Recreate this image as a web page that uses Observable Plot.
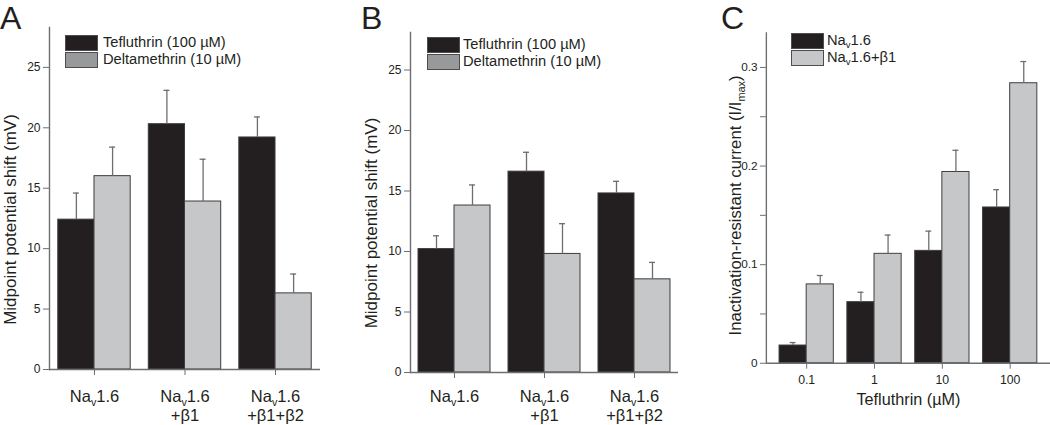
<!DOCTYPE html>
<html>
<head>
<meta charset="utf-8">
<script src="https://cdn.jsdelivr.net/npm/d3@7"></script>
<script src="https://cdn.jsdelivr.net/npm/@observablehq/plot@0.6"></script>
<style>
  html, body { margin: 0; padding: 0; background: #fff; overflow: hidden; }
  #root { position: relative; width: 1050px; height: 425px; overflow: hidden;
          font-family: "Liberation Sans", Arial, Helvetica, sans-serif; color: #231f20; }
  .panel { position: absolute; top: 0; }
  .letter { position: absolute; font-size: 32px; line-height: normal; }
  .sw { position: absolute; width: 31px; height: 14px; border: 1px solid #4d4d4f; }
  .lt { position: absolute; font-size: 14.7px; line-height: 1; white-space: nowrap; }
  .lt sub { font-size: 65%; vertical-align: -0.35em; line-height: 0; }
</style>
</head>
<body>
<div id="root"></div>
<script>
// ---------- data ----------
const groupsAB = ["Na_v1.6", "Na_v1.6\n+β1", "Na_v1.6\n+β1+β2"];
const seriesAB = ["Tefluthrin (100 µM)", "Deltamethrin (10 µM)"];

const A_tef     = [12.4, 20.3, 19.2];
const A_tef_err = [2.2, 2.8, 1.7];
const A_del     = [16.0, 13.9, 6.3];
const A_del_err = [2.4, 3.5, 1.6];

const B_tef     = [10.2, 16.6, 14.8];
const B_tef_err = [1.1, 1.6, 1.0];
const B_del     = [13.8, 9.8, 7.7];
const B_del_err = [1.7, 2.5, 1.4];

const concC      = ["0.1", "1", "10", "100"];
const seriesC    = ["Na_v1.6", "Na_v1.6+β1"];
const C_a        = [0.018, 0.062, 0.114, 0.158];
const C_a_err    = [0.003, 0.010, 0.020, 0.018];
const C_ab       = [0.080, 0.111, 0.194, 0.284];
const C_ab_err   = [0.009, 0.019, 0.022, 0.022];

const ticksAB      = [0, 5, 10, 15, 20, 25];
const ticksC       = [0, 0.1, 0.2, 0.3];
const minorTicksC  = [0.05, 0.15, 0.25];

const ylabelAB = "Midpoint potential shift (mV)";
const ylabelC  = "Inactivation-resistant current (I/I_{max})";
const xlabelC  = "Tefluthrin (µM)";

// ---------- style ----------
const FONT = "'Liberation Sans', Arial, Helvetica, sans-serif";
const BLACK = "#231f20", GREY = "#c6c7c9", LEGEND_GREY = "#98999b";
const BAR_STROKE = "#3d3d3f", AXIS = "#6d6e71", ERR = "#6d6e71", TEXT = "#231f20";

const root = document.getElementById("root");

function subify(node) {
  const walker = document.createTreeWalker(node, NodeFilter.SHOW_TEXT);
  const list = [];
  while (walker.nextNode()) list.push(walker.currentNode);
  for (const n of list) {
    const s = n.nodeValue;
    if (!s.includes("_")) continue;
    const frag = document.createDocumentFragment();
    const re = /_\{([^}]*)\}|_(.)/g;
    let last = 0, m;
    while ((m = re.exec(s))) {
      if (m.index > last) frag.appendChild(document.createTextNode(s.slice(last, m.index)));
      const t = document.createElementNS("http://www.w3.org/2000/svg", "tspan");
      t.setAttribute("baseline-shift", "-32%");
      t.setAttribute("font-size", "65%");
      t.textContent = m[1] !== undefined ? m[1] : m[2];
      frag.appendChild(t);
      last = re.lastIndex;
    }
    if (last < s.length) frag.appendChild(document.createTextNode(s.slice(last)));
    n.parentNode.replaceChild(frag, n);
  }
}

function makePanel(o) {
  const r0 = o.groups.map((g, i) => ({group: g, value: o.v0[i], err: o.e0[i]}));
  const r1 = o.groups.map((g, i) => ({group: g, value: o.v1[i], err: o.e1[i]}));
  const frameW = o.width - o.marginLeft - o.marginRight;
  const step = frameW / (o.groups.length - 0.2 + 2 * o.po);
  const bw = step * 0.8;
  const q = bw / 4, cap = 3;
  const err = (r, dx) => [
    Plot.ruleX(r, {x: "group", y1: "value", y2: d => d.value + d.err, dx, stroke: ERR, strokeWidth: 1.3}),
    Plot.tickY(r, {x: "group", y: d => d.value + d.err, dx, insetLeft: bw / 2 - cap, insetRight: bw / 2 - cap, stroke: ERR, strokeWidth: 1.3})
  ];
  const chart = Plot.plot({
    width: o.width,
    height: 425,
    marginLeft: o.marginLeft,
    marginRight: o.marginRight,
    marginTop: o.marginTop,
    marginBottom: o.marginBottom,
    style: {fontFamily: FONT, fontSize: "12px", color: TEXT, background: "transparent", overflow: "visible"},
    x: {type: "band", domain: o.groups, paddingInner: 0.2, paddingOuter: o.po, align: 0.5, round: false},
    y: {domain: [0, o.yMax]},
    marks: [
      Plot.barY(r0, {x: "group", y: "value", fill: BLACK, stroke: BAR_STROKE, strokeWidth: 1, insetRight: bw / 2}),
      Plot.barY(r1, {x: "group", y: "value", fill: GREY, stroke: BAR_STROKE, strokeWidth: 1, insetLeft: bw / 2}),
      ...err(r0, -q),
      ...err(r1, q),
      Plot.ruleY([0], {stroke: AXIS, strokeWidth: 1.4}),
      Plot.frame({anchor: "left", stroke: AXIS, strokeWidth: 1.4}),
      Plot.axisY({ticks: o.yTicks, tickSize: 6, tickPadding: 3, fontSize: 12, label: null, stroke: AXIS, fill: TEXT, tickFormat: d => String(d)}),
      o.yMinor ? Plot.axisY({ticks: o.yMinor, tickSize: 6, tickFormat: () => "", label: null, stroke: AXIS}) : null,
      Plot.axisX({tickSize: 6, tickPadding: o.xPad, fontSize: o.xFont, lineHeight: 1.15, label: null, stroke: AXIS, fill: TEXT}),
      Plot.text([o.ylabel], {text: d => d, frameAnchor: "left", textAnchor: "middle", rotate: -90, dx: o.ldx, dy: o.ldy, fontSize: 17, fill: TEXT}),
      o.xlabel ? Plot.text([o.xlabel], {text: d => d, frameAnchor: "bottom", textAnchor: "middle", lineAnchor: "top", dy: o.xldy, fontSize: 16.5, fill: TEXT}) : null
    ]
  });
  subify(chart);
  const wrap = document.createElement("div");
  wrap.className = "panel";
  wrap.style.left = o.left + "px";
  wrap.appendChild(chart);
  root.appendChild(wrap);
}

function letter(txt, left, top) {
  const d = document.createElement("div");
  d.className = "letter";
  d.textContent = txt;
  d.style.left = left + "px";
  d.style.top = top + "px";
  root.appendChild(d);
}

function legend(swLeft, top, txtLeft, labels, colors) {
  labels.forEach((lab, i) => {
    const s = document.createElement("div");
    s.className = "sw";
    s.style.left = swLeft + "px";
    s.style.top = (top + i * 17) + "px";
    s.style.background = colors[i];
    root.appendChild(s);
    const t = document.createElement("div");
    t.className = "lt";
    t.style.left = txtLeft + "px";
    t.style.top = (top + i * 17) + "px";
    t.innerHTML = lab.replace(/_\{([^}]*)\}|_(.)/g, (m, a, b) => `<sub>${a !== undefined ? a : b}</sub>`);
    root.appendChild(t);
  });
}

// Panel A
makePanel({left: 0, width: 330, marginLeft: 49, marginRight: 10, marginTop: 27, marginBottom: 56,
  yMax: 28.3, yTicks: ticksAB, groups: groupsAB, po: 0.097,
  v0: A_tef, e0: A_tef_err, v1: A_del, e1: A_del_err,
  xPad: 13.5, xFont: 16.5, ylabel: ylabelAB, ldx: -39, ldy: 21});
// Panel B
makePanel({left: 350, width: 340, marginLeft: 60, marginRight: 12, marginTop: 32, marginBottom: 53,
  yMax: 28.1, yTicks: ticksAB, groups: groupsAB, po: 0.089,
  v0: B_tef, e0: B_tef_err, v1: B_del, e1: B_del_err,
  xPad: 10.5, xFont: 16.5, ylabel: ylabelAB, ldx: -39, ldy: 20.5});
// Panel C
makePanel({left: 700, width: 356, marginLeft: 67, marginRight: 0, marginTop: 33, marginBottom: 56,
  yMax: 0.335, yTicks: ticksC, yMinor: minorTicksC, groups: concC, po: 0.194,
  v0: C_a, e0: C_a_err, v1: C_ab, e1: C_ab_err,
  xPad: 5, xFont: 12.5, ylabel: ylabelC, ldx: -31.5, ldy: 7.5, xlabel: xlabelC, xldy: 31});

letter("A", 0, 0);
letter("B", 361, 0);
letter("C", 721, 0);

legend(65, 35, 103, seriesAB, [BLACK, LEGEND_GREY]);
legend(427, 37, 463, seriesAB, [BLACK, LEGEND_GREY]);
legend(791, 33, 827, seriesC, [BLACK, GREY]);
</script>
</body>
</html>
